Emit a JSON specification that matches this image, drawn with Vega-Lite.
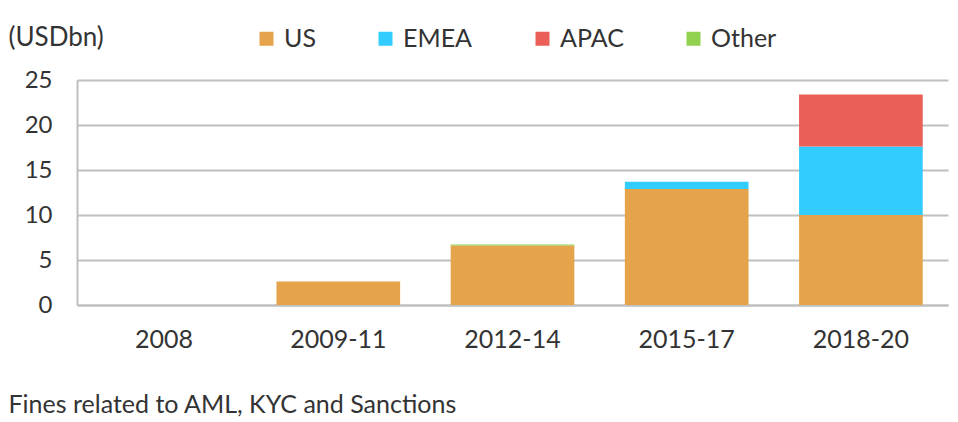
{
  "$schema": "https://vega.github.io/schema/vega-lite/v6.json",
  "width": 871,
  "height": 225,
  "autosize": {"type": "none"},
  "padding": {"left": 77, "top": 80, "right": 10, "bottom": 117},
  "background": "white",
  "config": {
    "font": "Lato",
    "view": {"stroke": null},
    "axis": {"labelFont": "Lato", "titleFont": "Lato", "labelColor": "#333333", "titleColor": "#333333"}
  },
  "data": {
    "values": [
      {"period": "2008", "region": "US", "rank": 1, "value": 0},
      {"period": "2009-11", "region": "US", "rank": 1, "value": 2.6},
      {"period": "2012-14", "region": "US", "rank": 1, "value": 6.6},
      {"period": "2012-14", "region": "Other", "rank": 4, "value": 0.12},
      {"period": "2015-17", "region": "US", "rank": 1, "value": 12.9},
      {"period": "2015-17", "region": "EMEA", "rank": 2, "value": 0.8},
      {"period": "2018-20", "region": "US", "rank": 1, "value": 10.0},
      {"period": "2018-20", "region": "EMEA", "rank": 2, "value": 7.6},
      {"period": "2018-20", "region": "APAC", "rank": 3, "value": 5.8}
    ]
  },
  "mark": {"type": "bar"},
  "encoding": {
    "x": {
      "field": "period",
      "type": "nominal",
      "sort": ["2008", "2009-11", "2012-14", "2015-17", "2018-20"],
      "scale": {"paddingInner": 0.29, "paddingOuter": 0.145},
      "axis": {
        "title": "Fines related to AML, KYC and Sanctions",
        "titleX": -69,
        "titleY": 107,
        "titleAlign": "left",
        "titleAnchor": "start",
        "titleBaseline": "alphabetic",
        "titleFontSize": 25,
        "titleFontWeight": "normal",
        "labelAngle": 0,
        "labelFontSize": 25,
        "labelBaseline": "alphabetic",
        "labelPadding": 42,
        "ticks": false,
        "tickSize": 0,
        "domain": true,
        "domainColor": "#BFBFBF",
        "domainWidth": 2
      }
    },
    "y": {
      "field": "value",
      "type": "quantitative",
      "stack": "zero",
      "scale": {"domain": [0, 25]},
      "axis": {
        "title": "(USDbn)",
        "titleAngle": 0,
        "titleX": -69,
        "titleY": -35,
        "titleAlign": "left",
        "titleBaseline": "alphabetic",
        "titleFontSize": 26,
        "titleFontWeight": "normal",
        "values": [0, 5, 10, 15, 20, 25],
        "labelFontSize": 24,
        "labelPadding": 25,
        "ticks": false,
        "tickSize": 0,
        "grid": true,
        "gridColor": "#BFBFBF",
        "gridWidth": 2,
        "domain": true,
        "domainColor": "#BFBFBF",
        "domainWidth": 2
      }
    },
    "color": {
      "field": "region",
      "type": "nominal",
      "scale": {
        "domain": ["US", "EMEA", "APAC", "Other"],
        "range": ["#E5A44C", "#33CCFF", "#EA5F58", "#92D050"]
      },
      "legend": {
        "title": null,
        "orient": "none",
        "legendX": 177,
        "legendY": -54,
        "direction": "horizontal",
        "symbolType": "square",
        "symbolSize": 196,
        "symbolStrokeWidth": 0,
        "labelFontSize": 25,
        "labelColor": "#333333",
        "labelOffset": 5,
        "columnPadding": 57
      }
    },
    "order": {"field": "rank", "type": "quantitative"}
  }
}
